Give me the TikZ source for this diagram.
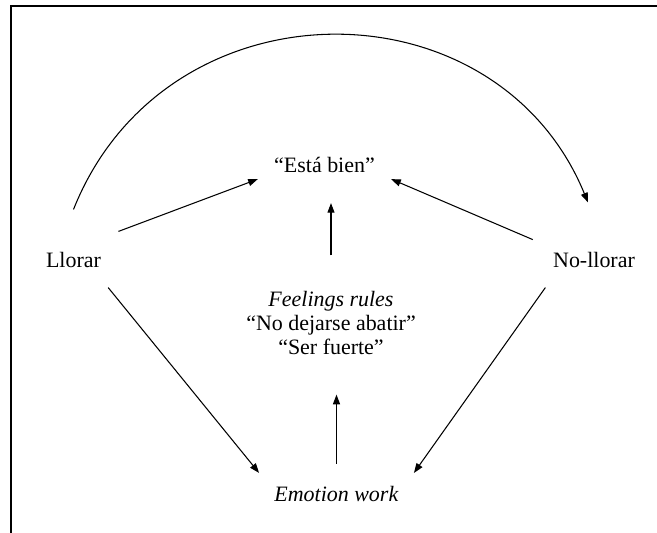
\documentclass[tikz,border=0pt]{standalone}
\usepackage{fontspec}
\setmainfont{Liberation Serif}
\usetikzlibrary{arrows.meta,positioning}

\begin{document}
\begin{tikzpicture}[x=0.02cm,y=-0.02cm,
    every node/.style={font=\fontsize{12.5}{13.4}\selectfont},
    flecha/.style={-{Triangle[length=5.5pt,width=4pt]},line width=0.6pt}]
  \useasboundingbox (0,0) rectangle (657,533);
  % marco
  \draw[line width=1.2pt] (11,533) -- (11,6.3) -- (657,6.3);
  % nodos
  \node[inner xsep=0.32cm,inner ysep=0.12cm] (esta) at (324.5,165) {“Está bien”};
  \node[inner sep=0.4cm] (llorar) at (73.5,259.5) {Llorar};
  \node[inner sep=0.4cm] (nollorar) at (594,259.5) {No-llorar};
  \node[inner sep=0pt,align=center] (feel) at (331,323)
     {\textit{Feelings rules}\\“No dejarse abatir”\\“Ser fuerte”};
  \node[inner xsep=0.3cm,inner ysep=0.26cm] (emo) at (336.5,494) {\textit{Emotion work}};
  % hacia "Está bien"
  \draw[flecha] (llorar.32) -- (esta.south west);
  \draw[flecha] (nollorar.162) -- (esta.south east);
  \draw[flecha,shorten <=0.72cm,shorten >=0.48cm] (feel.north) -- (feel.north |- esta.south);
  % hacia emotion work
  \draw[flecha] (llorar.-39) -- (emo.north west);
  \draw[flecha] (nollorar.210) -- (emo.north east);
  \draw[flecha,shorten <=0.18cm,shorten >=0.8cm] (emo.north) -- (emo.north |- feel.south);
  % arco
  \draw[flecha] ([yshift=0.44cm]llorar.north) .. controls +(92,-231) and +(-92,-224)
     .. ([xshift=-0.12cm,yshift=0.58cm]nollorar.north);
\end{tikzpicture}
\end{document}
